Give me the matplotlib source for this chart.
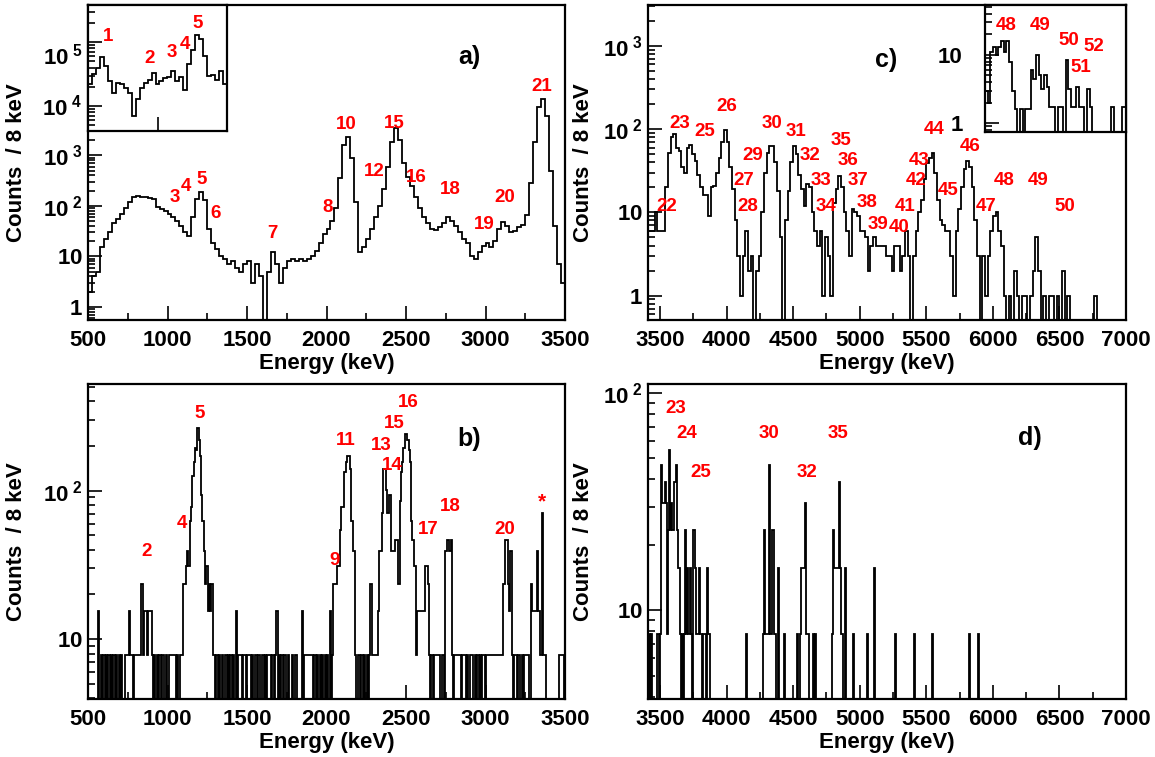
import numpy as np
import matplotlib
matplotlib.use('Agg')
import matplotlib.pyplot as plt
from matplotlib.ticker import FixedLocator, FixedFormatter, NullFormatter, MultipleLocator

plt.rcParams['font.family'] = 'Liberation Sans'
plt.rcParams['font.weight'] = 'bold'
plt.rcParams['mathtext.fontset'] = 'custom'
plt.rcParams['mathtext.rm'] = 'Liberation Sans:bold'
plt.rcParams['mathtext.it'] = 'Liberation Sans:bold'
plt.rcParams['mathtext.bf'] = 'Liberation Sans:bold'

# ---- panel a: singles spectrum, 25 keV bins from 500 keV
a_start, a_width = 500, 25
a_counts = [2, 4, 5, 15, 22, 30, 45, 55, 70, 90, 120, 150, 155, 150, 150, 145, 140, 95, 85, 78,
            70, 60, 50, 40, 30, 25, 60, 140, 190, 130, 35, 18, 14, 10, 9, 7, 8, 6, 5, 7,
            8, 3, 7, 4, 0, 5, 12, 7, 3, 6, 8, 9, 8, 9, 8, 9, 10, 13, 18, 28,
            35, 50, 90, 350, 1600, 2300, 900, 120, 12, 15, 22, 35, 60, 100, 220, 600, 1800, 3500, 2000, 700,
            380, 250, 150, 90, 60, 45, 35, 33, 38, 45, 60, 50, 40, 30, 22, 18, 10, 9, 12, 16,
            18, 15, 20, 35, 48, 40, 30, 32, 38, 42, 65, 280, 1800, 9000, 13000, 6000, 500, 40, 7, 3]

# inset of panel a, 20 keV bins from 650 keV
ia_start, ia_width = 650, 20
ia_counts = [2.2e4, 3.2e4, 4.0e4, 5.8e4, 4.2e4, 2.5e4, 1.6e4, 2.3e4, 2.2e4, 1.9e4,
             1.6e4, 7e3, 1.3e4, 1.9e4, 2.3e4, 2.6e4, 3.3e4, 2.2e4, 2.5e4, 2.8e4,
             2.9e4, 3.6e4, 2.5e4, 2.9e4, 1.8e4, 4.5e4, 7.5e4, 1.3e5, 1.1e5, 6e4,
             3e4, 3.1e4, 2.6e4, 3.5e4, 2.2e4]

# ---- panel c: 20 keV bins from 3400 keV
c_start, c_width = 3400, 20
c_counts = [6, 6, 6, 10, 6, 6, 6, 20, 52, 80, 88, 60, 55, 35, 30, 60, 65, 50, 42, 28,
            20, 16, 16, 9, 20, 21, 30, 45, 70, 98, 70, 35, 19, 8, 3, 1, 3, 6, 2, 3,
            0, 2, 3, 10, 30, 52, 62, 62, 40, 18, 5, 0, 8, 18, 40, 62, 50, 28, 19, 12,
            22, 20, 10, 6, 4, 6, 1, 5, 3, 1, 13, 19, 27, 20, 10, 6, 3, 11, 10, 9,
            6, 6, 5, 2, 4, 5, 4, 4, 4, 4, 3, 3, 2, 4, 4, 2, 3, 6, 3, 0,
            3, 6, 10, 14, 25, 39, 45, 52, 30, 14, 8, 7, 6, 6, 3, 1, 6, 11, 20, 33,
            41, 35, 20, 8, 3, 0, 3, 1, 3, 6, 9, 10, 6, 4, 1, 0, 1, 0, 2, 1,
            0, 1, 1, 0, 1, 2, 5, 2, 0, 1, 0, 1, 1, 0, 1, 0, 2, 0, 1, 0,
            0, 0, 0, 0, 0, 0, 0, 0, 1, 0, 0, 0, 0, 0, 0, 0, 0, 0, 0, 0]

# inset of panel c, 20 keV bins from 5950 keV
ic_start, ic_width = 5950, 20
ic_counts = [3, 2, 11, 13, 10, 13, 16, 11, 16, 8, 3, 1.6, 0, 1.6, 0, 1.6, 1.6, 6, 4.5, 10,
             5, 3.2, 5, 3.4, 1.7, 1.7, 0, 1.7, 1.7, 0, 8.4, 3.2, 1.7, 1.7, 3.4, 1.7, 1.7, 0, 3.2, 1.7,
             0, 0, 0, 0, 0, 0, 0, 1.7, 0, 0, 0, 1.7]

# ---- panels b and d: gated spectra, 8 keV bins, (energy, events) for non-empty bins
weight = 7.8
b_bins = [(567, 2), (583, 1), (599, 1), (615, 1), (631, 1), (647, 1), (663, 1), (679, 1), (695, 1), (711, 1),
          (735, 1), (743, 1), (751, 1), (759, 2), (767, 1), (775, 1), (791, 1), (799, 1), (807, 1), (815, 1),
          (823, 1), (831, 1), (839, 3), (847, 1), (855, 2), (863, 2), (871, 1), (879, 2), (887, 2), (895, 2),
          (903, 1), (919, 1), (935, 1), (951, 1), (967, 1), (975, 1), (991, 1), (1015, 1), (1023, 1), (1031, 1),
          (1039, 1), (1047, 1), (1063, 1), (1079, 1), (1087, 1),
          (1095, 1), (1103, 3), (1111, 3), (1119, 4), (1127, 5), (1135, 4), (1143, 8), (1151, 10), (1159, 16),
          (1167, 20), (1175, 25), (1183, 24), (1191, 34), (1199, 28), (1207, 22), (1215, 12), (1223, 8),
          (1231, 5), (1239, 3), (1247, 4), (1255, 2), (1263, 3), (1271, 2), (1279, 3), (1287, 1), (1295, 1),
          (1311, 1), (1327, 1), (1343, 1), (1367, 1), (1383, 1), (1399, 1), (1415, 1), (1431, 2), (1447, 1),
          (1455, 1), (1463, 1), (1479, 1), (1487, 1), (1503, 1), (1511, 1), (1519, 1), (1535, 1), (1551, 1),
          (1559, 1), (1575, 1), (1599, 1), (1615, 1), (1631, 1), (1639, 1), (1647, 1), (1663, 1), (1679, 1),
          (1687, 2), (1703, 1), (1719, 1), (1735, 1), (1743, 1), (1759, 1), (1783, 1), (1807, 1), (1847, 2),
          (1863, 1), (1871, 1), (1879, 1), (1887, 1), (1895, 1), (1903, 1), (1911, 1), (1927, 1), (1943, 1),
          (1959, 1), (1975, 1), (1991, 1), (2007, 1), (2023, 2), (2039, 1),
          (2051, 3), (2059, 3), (2067, 3), (2075, 4), (2083, 4), (2091, 7), (2099, 10), (2107, 10), (2115, 17),
          (2123, 17), (2131, 20), (2139, 22), (2147, 22), (2155, 18), (2163, 8), (2171, 5), (2179, 5), (2187, 1),
          (2199, 1), (2207, 1), (2223, 1), (2239, 1), (2255, 1), (2271, 1), (2279, 3), (2287, 1), (2295, 1),
          (2303, 1), (2311, 1), (2319, 1), (2327, 2), (2335, 5),
          (2343, 5), (2351, 9), (2359, 18), (2367, 18), (2375, 13), (2383, 9), (2391, 9), (2399, 12), (2407, 5),
          (2415, 5), (2423, 5), (2431, 6), (2439, 6), (2447, 6), (2455, 3), (2463, 11), (2471, 17), (2479, 20),
          (2487, 25), (2495, 31), (2503, 31), (2511, 28), (2519, 24), (2527, 20), (2535, 8), (2543, 6), (2551, 4),
          (2559, 4), (2567, 1), (2575, 2), (2583, 2), (2591, 2), (2599, 2), (2607, 2), (2615, 2), (2623, 4),
          (2631, 4), (2639, 3), (2647, 1),
          (2663, 1), (2679, 1), (2687, 1), (2695, 1), (2703, 1), (2711, 1), (2727, 1), (2735, 1),
          (2751, 5), (2759, 6), (2767, 6), (2775, 5), (2783, 6), (2791, 1),
          (2807, 1), (2815, 1), (2823, 1), (2831, 1), (2839, 1), (2855, 1), (2863, 1), (2871, 1), (2887, 1),
          (2903, 1), (2911, 1), (2919, 1), (2935, 1), (2951, 1), (2967, 1), (2983, 1), (2991, 1), (3007, 1),
          (3015, 1), (3023, 1), (3031, 1), (3039, 1), (3047, 1), (3055, 1), (3063, 1), (3071, 1), (3079, 1),
          (3087, 1), (3095, 1), (3103, 1),
          (3111, 3), (3119, 3), (3127, 6), (3135, 6), (3143, 3), (3151, 2), (3159, 5), (3167, 1),
          (3183, 1), (3191, 1), (3207, 1), (3215, 1), (3231, 1), (3247, 1), (3255, 1), (3263, 1), (3271, 1),
          (3287, 3), (3295, 2), (3303, 2), (3311, 2), (3319, 2), (3327, 5), (3335, 2), (3343, 1), (3351, 1),
          (3359, 9), (3367, 1), (3375, 1),
          (3463, 1), (3471, 1), (3479, 1), (3487, 1)]

d_bins = [(3418, 1), (3434, 1), (3474, 1), (3482, 1), (3498, 1), (3506, 6), (3514, 4), (3522, 4), (3530, 4),
          (3538, 5), (3546, 4), (3554, 1), (3562, 3), (3570, 7), (3578, 3), (3586, 4), (3594, 3), (3602, 5),
          (3610, 5), (3618, 6), (3626, 3), (3634, 2), (3642, 2), (3650, 1), (3666, 1), (3682, 1), (3690, 3),
          (3698, 1), (3706, 2), (3714, 1), (3722, 2), (3730, 1), (3746, 3), (3754, 3), (3762, 2), (3770, 1),
          (3778, 1), (3786, 1), (3794, 2), (3802, 1), (3810, 1), (3826, 1), (3834, 1), (3850, 2), (3858, 1),
          (3866, 1),
          (4150, 1),
          (4274, 1), (4282, 3), (4290, 1), (4298, 1), (4306, 1), (4314, 1), (4322, 6), (4330, 1), (4338, 3),
          (4346, 3), (4354, 1), (4362, 1), (4386, 2),
          (4438, 1), (4534, 1), (4554, 1), (4562, 2), (4570, 2), (4578, 2), (4586, 4), (4594, 1), (4602, 1),
          (4610, 1), (4650, 1), (4666, 1),
          (4794, 1), (4802, 3), (4810, 2), (4818, 2), (4826, 2), (4834, 2), (4842, 5), (4850, 2), (4858, 1),
          (4866, 1), (4890, 2),
          (4946, 1), (5058, 1), (5106, 2), (5266, 1), (5410, 1), (5546, 1), (5818, 1), (5890, 1)]

# ---- peak labels (energy, height)
a_labels = [('3', 1047, 145), ('4', 1118, 240), ('5', 1217, 330), ('6', 1302, 72), ('7', 1661, 28),
            ('8', 2010, 95), ('10', 2125, 4000), ('12', 2300, 480), ('15', 2424, 4200), ('16', 2567, 360),
            ('18', 2781, 210), ('19', 2991, 42), ('20', 3121, 145), ('21', 3352, 23000)]
ia_labels = [('1', 752, 1.23e5), ('2', 962, 5.6e4), ('3', 1073, 6.8e4), ('4', 1138, 9.1e4), ('5', 1200, 1.95e5)]
b_labels = [('2', 871, 39), ('4', 1088, 60), ('5', 1204, 331), ('9', 2048, 34), ('11', 2118, 219),
            ('13', 2346, 200), ('14', 2411, 148), ('15', 2423, 282), ('16', 2516, 389), ('17', 2637, 55),
            ('18', 2781, 78), ('20', 3121, 55)]
c_labels = [('22', 3552, 11.7), ('23', 3648, 117), ('25', 3836, 95), ('26', 4001, 186), ('27', 4130, 24.5),
            ('28', 4158, 11.7), ('29', 4193, 48), ('30', 4345, 117), ('31', 4518, 95), ('32', 4625, 48),
            ('33', 4708, 24.5), ('34', 4744, 11.7), ('35', 4860, 74), ('36', 4914, 42), ('37', 4984, 24.5),
            ('38', 5053, 13.2), ('39', 5135, 7.2), ('40', 5294, 6.6), ('41', 5339, 11.7), ('42', 5424, 24.5),
            ('43', 5446, 42), ('44', 5556, 98), ('45', 5666, 18.2), ('46', 5826, 62), ('47', 5948, 11.7),
            ('48', 6087, 24.5), ('49', 6341, 24.5), ('50', 6542, 11.7)]
ic_labels = [('48', 6110, 27), ('49', 6364, 27), ('50', 6578, 16.2), ('52', 6763, 13.5), ('51', 6664, 6.6)]
d_labels = [('23', 3615, 85), ('24', 3698, 65), ('25', 3808, 43), ('30', 4317, 65), ('32', 4607, 43),
            ('35', 4835, 65)]


def edges(start, width, n):
    return start + width * np.arange(n + 1)


def sparse_hist(pairs, start, stop, width):
    n = int(round((stop - start) / width))
    vals = np.zeros(n)
    for e, k in pairs:
        vals[int((e - start) // width)] += k * weight
    return edges(start, width, n), vals


def exp_label(k):
    if k == 0:
        return r'$1\quad$'
    if k == 1:
        return r'$10\quad$'
    return r'$10^{\ %d}$' % k


def log_axis(ax, lo, hi, labels=True, pad=4):
    ax.set_yscale('log')
    majors = [10.0 ** k for k in range(lo, hi + 1)]
    minors = [m * 10.0 ** k for k in range(lo - 1, hi + 1) for m in range(2, 10)]
    ax.yaxis.set_major_locator(FixedLocator(majors))
    ax.yaxis.set_minor_locator(FixedLocator(minors))
    if labels:
        ax.yaxis.set_major_formatter(FixedFormatter([exp_label(k) for k in range(lo, hi + 1)]))
    else:
        ax.yaxis.set_major_formatter(NullFormatter())
    ax.yaxis.set_minor_formatter(NullFormatter())
    ax.tick_params(axis='y', pad=pad)


def frame(ax):
    ax.tick_params(which='both', direction='in', top=False, right=False, labelsize=16, width=1.2)
    ax.tick_params(which='major', length=10)
    ax.tick_params(which='minor', length=5)
    ax.tick_params(axis='x', pad=7)
    for s in ax.spines.values():
        s.set_linewidth(1.6)


def main_panel(ax, xmin, xmax, ylab_x):
    ax.set_xlim(xmin, xmax)
    ax.xaxis.set_major_locator(MultipleLocator(500))
    ax.xaxis.set_minor_locator(MultipleLocator(250))
    frame(ax)
    ax.set_xlabel('Energy (keV)', fontsize=16, fontweight='bold')
    ax.set_ylabel('Counts  / 8 keV', fontsize=16, fontweight='bold')
    ax.xaxis.set_label_coords(0.5, -0.105)
    ax.yaxis.set_label_coords(ylab_x, 0.5)


def put_labels(ax, labels, size=13.5):
    for txt, x, y in labels:
        ax.text(x, y, txt, color='red', fontsize=size, fontweight='bold', ha='center', va='center')


W, H = 1155, 757


def rect(left, top, right, bottom):
    return [left / W, 1 - bottom / H, (right - left) / W, (bottom - top) / H]


fig = plt.figure(figsize=(11.55, 7.57), dpi=100)

# panel a
ax_a = fig.add_axes(rect(88, 5, 565, 320))
ax_a.stairs(a_counts, edges(a_start, a_width, len(a_counts)), color='black', lw=1.3, baseline=None)
log_axis(ax_a, 0, 5)
ax_a.set_ylim(0.55, 9.5e5)
main_panel(ax_a, 500, 3500, -0.128)
put_labels(ax_a, a_labels)
ax_a.text(2900, 8.7e4, 'a)', fontsize=18, fontweight='bold', ha='center', va='center')

ins_a = fig.add_axes(rect(88, 5, 227, 131))
ins_a.stairs(ia_counts, edges(ia_start, ia_width, len(ia_counts)), color='black', lw=1.3, baseline=None)
log_axis(ins_a, 4, 5, labels=False)
ins_a.set_ylim(4.1e3, 3.8e5)
ins_a.set_xlim(650, 1350)
ins_a.xaxis.set_major_locator(MultipleLocator(500))
ins_a.xaxis.set_major_formatter(NullFormatter())
frame(ins_a)
put_labels(ins_a, ia_labels)

# panel b
ax_b = fig.add_axes(rect(88, 384, 565, 699))
b_edges, b_vals = sparse_hist(b_bins, 500, 3500, 8)
ax_b.stairs(b_vals, b_edges, color='black', lw=1.3, baseline=None)
log_axis(ax_b, 1, 2)
ax_b.set_ylim(3.96, 522)
main_panel(ax_b, 500, 3500, -0.128)
put_labels(ax_b, b_labels)
ax_b.text(3355, 84, '*', color='red', fontsize=15, fontweight='bold', ha='center', va='center')
ax_b.text(2900, 224, 'b)', fontsize=18, fontweight='bold', ha='center', va='center')

# panel c
ax_c = fig.add_axes(rect(648, 5, 1126, 320))
ax_c.stairs(c_counts, edges(c_start, c_width, len(c_counts)), color='black', lw=1.3, baseline=None)
log_axis(ax_c, 0, 3)
ax_c.set_ylim(0.51, 3100)
main_panel(ax_c, 3410, 7000, -0.112)
put_labels(ax_c, c_labels)
ax_c.text(5198, 676, 'c)', fontsize=18, fontweight='bold', ha='center', va='center')

ins_c = fig.add_axes(rect(985, 5, 1126, 132))
ins_c.stairs(ic_counts, edges(ic_start, ic_width, len(ic_counts)), color='black', lw=1.3, baseline=None)
ins_c.set_yscale('log')
ins_c.yaxis.set_major_locator(FixedLocator([1, 10]))
ins_c.yaxis.set_major_formatter(FixedFormatter(['1', '10']))
ins_c.yaxis.set_minor_locator(FixedLocator([m * 10.0 ** k for k in range(-1, 2) for m in range(2, 10)]))
ins_c.yaxis.set_minor_formatter(NullFormatter())
ins_c.set_ylim(0.74, 54)
ins_c.set_xlim(5950, 7000)
ins_c.xaxis.set_major_locator(FixedLocator([]))
frame(ins_c)
ins_c.tick_params(axis='y', pad=16)
put_labels(ins_c, ic_labels)

# panel d
ax_d = fig.add_axes(rect(648, 384, 1126, 699))
d_edges, d_vals = sparse_hist(d_bins, 3410, 7002, 8)
ax_d.stairs(d_vals, d_edges, color='black', lw=1.3, baseline=None)
log_axis(ax_d, 1, 2)
ax_d.set_ylim(3.9, 110)
main_panel(ax_d, 3410, 7000, -0.112)
put_labels(ax_d, d_labels)
ax_d.text(6280, 62, 'd)', fontsize=18, fontweight='bold', ha='center', va='center')

fig.savefig('out.png', dpi=100)
